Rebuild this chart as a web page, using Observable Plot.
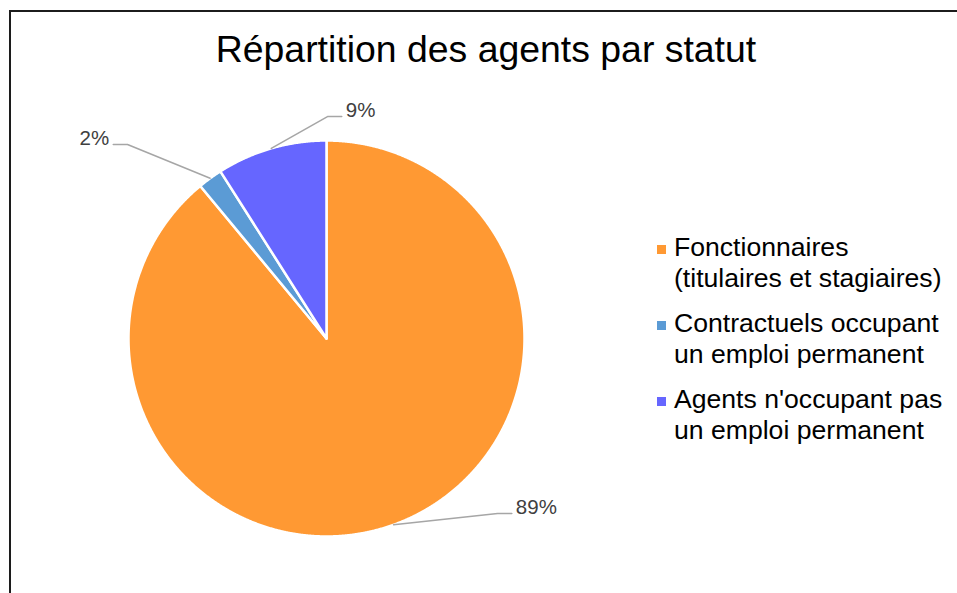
<!DOCTYPE html>
<html>
<head>
<meta charset="utf-8">
<script src="https://cdn.jsdelivr.net/npm/d3@7"></script>
<script src="https://cdn.jsdelivr.net/npm/@observablehq/plot@0.6"></script>
<style>
  html, body { margin: 0; padding: 0; background: #fff; }
  #wrap { position: relative; width: 957px; height: 593px; overflow: hidden; font-family: "Liberation Sans", Arial, sans-serif; }
  #frame { position: absolute; left: 9px; top: 10px; width: 2000px; height: 2000px; border-left: 2px solid #1c1c1c; border-top: 2px solid #1c1c1c; pointer-events: none; }
  #title { position: absolute; left: 0; width: 972px; top: 31px; text-align: center; font-size: 37.4px; line-height: 37px; color: #000; white-space: nowrap; }
  #legend { position: absolute; left: 657px; top: 232px; }
  .item { display: flex; align-items: flex-start; margin-bottom: 14px; }
  .sw { width: 9px; height: 9px; margin-top: 13px; margin-right: 8px; flex: none; }
  .lt { font-size: 26.6px; line-height: 31px; color: #000; white-space: nowrap; }
  #chart { position: absolute; left: 0; top: 0; }
</style>
</head>
<body>
<div id="wrap">
  <div id="chart"></div>
  <div id="frame"></div>
  <div id="title"></div>
  <div id="legend"></div>
</div>
<script>
// ---- data ----
const titleText = "Répartition des agents par statut";
const categories = [
  "Fonctionnaires (titulaires et stagiaires)",
  "Contractuels occupant un emploi permanent",
  "Agents n'occupant pas un emploi permanent"
];
const legendLines = [
  ["Fonctionnaires", "(titulaires et stagiaires)"],
  ["Contractuels occupant", "un emploi permanent"],
  ["Agents n'occupant pas", "un emploi permanent"]
];
const values = [89, 2, 9];
const labels = ["89%", "2%", "9%"];
const colors = ["#FF9933", "#5B9BD5", "#6666FF"];

// ---- layout (pie in radius units) ----
const W = 957, H = 593, cx = 326, cy = 338, R = 198;
const labelElbow = [[0.864, -0.884], [-1.005, 0.980], [0.005, 1.121]];
const labelSide = [1, -1, 1];
const tail = 0.072;

const slices = d3.pie().sort(null).value(d => d)(values);

const arcPts = [];
slices.forEach((s, i) => {
  const n = Math.max(4, Math.ceil((s.endAngle - s.startAngle) / 0.004));
  arcPts.push({x: 0, y: 0, c: categories[i]});
  for (let j = 0; j <= n; j++) {
    const a = s.startAngle + (s.endAngle - s.startAngle) * j / n;
    arcPts.push({x: Math.sin(a), y: Math.cos(a), c: categories[i]});
  }
  arcPts.push({x: 0, y: 0, c: categories[i]});
});

const leader = [];
const labelPts = [];
slices.forEach((s, i) => {
  const m = (s.startAngle + s.endAngle) / 2;
  const [ex, ey] = labelElbow[i];
  const endx = ex + labelSide[i] * tail;
  leader.push({x: Math.sin(m), y: Math.cos(m), k: i});
  leader.push({x: ex, y: ey, k: i});
  leader.push({x: endx, y: ey, k: i});
  labelPts.push({x: endx, y: ey, text: labels[i], side: labelSide[i]});
});

const plot = Plot.plot({
  width: W, height: H, margin: 0,
  style: {fontFamily: "'Liberation Sans', Arial, sans-serif", background: "transparent"},
  x: {domain: [-cx / R, (W - cx) / R], axis: null},
  y: {domain: [-(H - cy) / R, cy / R], axis: null},
  color: {domain: categories, range: colors},
  marks: [
    Plot.line(arcPts, {x: "x", y: "y", z: "c", fill: "c", stroke: "white", strokeWidth: 2.5, curve: "linear"}),
    Plot.line(leader, {x: "x", y: "y", z: "k", stroke: "#a6a6a6", strokeWidth: 1.5}),
    Plot.text(labelPts.filter(d => d.side > 0), {x: "x", y: "y", text: "text", textAnchor: "start", dx: 4, dy: -6, fontSize: 20.5, fill: "#404040"}),
    Plot.text(labelPts.filter(d => d.side < 0), {x: "x", y: "y", text: "text", textAnchor: "end", dx: -4, dy: -6, fontSize: 20.5, fill: "#404040"})
  ]
});
document.getElementById("chart").appendChild(plot);

document.getElementById("title").textContent = titleText;
const lg = document.getElementById("legend");
legendLines.forEach((lines, i) => {
  const it = document.createElement("div");
  it.className = "item";
  const sw = document.createElement("div");
  sw.className = "sw";
  sw.style.background = colors[i];
  const tx = document.createElement("div");
  tx.className = "lt";
  tx.innerHTML = lines.map(l => l.replace(/&/g, "&amp;").replace(/</g, "&lt;")).join("<br>");
  it.appendChild(sw); it.appendChild(tx);
  lg.appendChild(it);
});
</script>
</body>
</html>
